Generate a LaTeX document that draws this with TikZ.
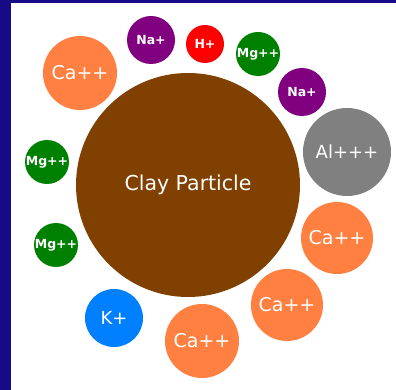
\documentclass[tikz,border=0pt]{standalone}
\usepackage{fontspec}
\setmainfont{DejaVu Sans}
\usepackage{tikz}
\definecolor{navyback}{RGB}{22,10,135}
\definecolor{claybrown}{RGB}{128,64,0}
\definecolor{caorange}{RGB}{255,128,64}
\definecolor{napurple}{RGB}{128,0,128}
\definecolor{mggreen}{RGB}{0,128,0}
\definecolor{hred}{RGB}{255,0,0}
\definecolor{algray}{RGB}{128,128,128}
\definecolor{kblue}{RGB}{0,128,255}

\begin{document}
\begin{tikzpicture}[x=1pt, y=-1pt,
    ion/.style={circle, inner sep=0pt, text=white, font=\fontsize{18}{20}\selectfont},
    caion/.style={ion, fill=caorange, font=\fontsize{19}{21}\selectfont},
    smallion/.style={ion, font=\bfseries\fontsize{12.5}{14}\selectfont}]
    % background
    \fill[navyback] (0,0) rectangle (396,390);
    \fill[white] (11,3) rectangle (396,390);
    \useasboundingbox (0,0) rectangle (396,390);
    % the particle
    \node[ion, fill=claybrown, minimum size=224pt, font=\fontsize{20.5}{23}\selectfont] (clay) at (188,185) {Clay Particle};
    % cations around it
    \node[caion, minimum size=74pt] (ca1) at (80,73) {Ca++};
    \node[smallion, fill=napurple, minimum size=48pt] (na1) at (151,40) {Na+};
    \node[smallion, fill=hred, minimum size=38pt] (h1) at (205,44) {H+};
    \node[smallion, fill=mggreen, minimum size=44pt] (mg1) at (258,54) {Mg++};
    \node[smallion, fill=napurple, minimum size=48pt] (na2) at (302,92) {Na+};
    \node[ion, fill=algray, minimum size=88pt] (al1) at (347,152) {Al+++};
    \node[caion, minimum size=72pt] (ca2) at (337,238) {Ca++};
    \node[caion, minimum size=72pt] (ca3) at (287,305) {Ca++};
    \node[caion, minimum size=74pt] (ca4) at (202,341) {Ca++};
    \node[ion, fill=kblue, minimum size=58pt] (k1) at (114,318) {K+};
    \node[smallion, fill=mggreen, minimum size=44pt] (mg2) at (56,245) {Mg++};
    \node[smallion, fill=mggreen, minimum size=44pt] (mg3) at (47,162) {Mg++};
\end{tikzpicture}
\end{document}
